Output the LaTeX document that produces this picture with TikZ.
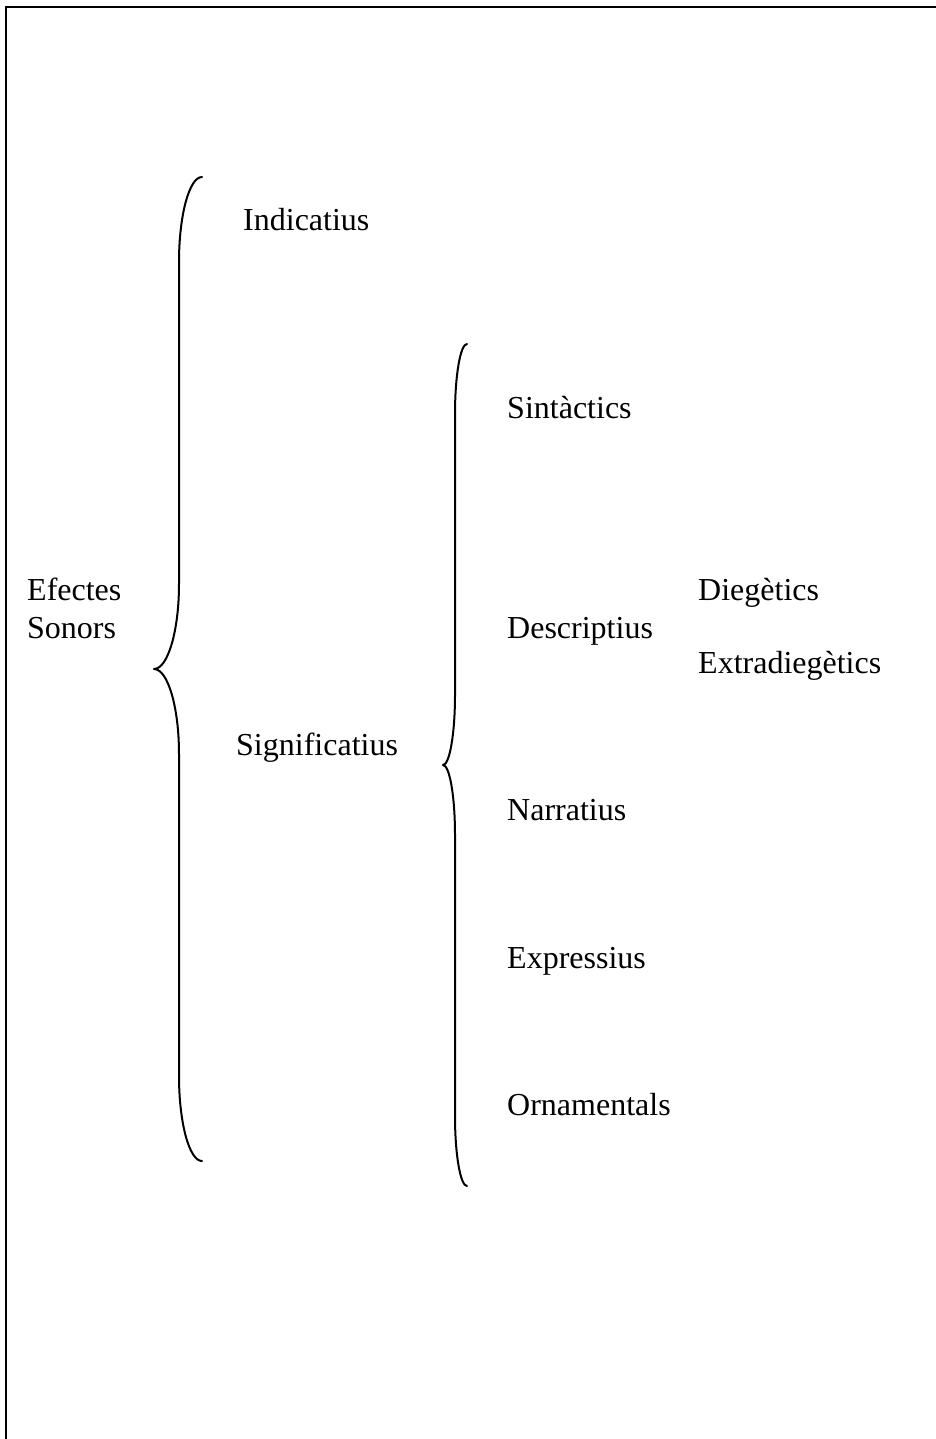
\documentclass[tikz,border=0pt]{standalone}
\usepackage{fontspec}
\setmainfont{Liberation Serif}
\begin{document}
\begin{tikzpicture}[x=1pt,y=-1pt,
  label/.style={anchor=base west,inner sep=0pt,font=\fontsize{32}{38}\selectfont},
  bracestroke/.style={line width=2pt,line cap=round,line join=round},
  framestroke/.style={line width=2pt}]
\clip (0,0) rectangle (936,1439);
\fill[white] (0,0) rectangle (936,1439);
% page frame (runs past the right and bottom edges)
\draw[framestroke] (960,7) -- (6,7) -- (6,1470);

% outer brace
\draw[bracestroke] (202,177) .. controls (189.3,177) and (179,215.1) .. (179,262)
  -- (179,584) .. controls (179,630.9) and (167.8,669) .. (154,669)
  .. controls (167.8,669) and (179,707.1) .. (179,754)
  -- (179,1076) .. controls (179,1122.9) and (189.3,1161) .. (202,1161);

% inner brace
\draw[bracestroke] (467,344) .. controls (460.4,344) and (455,375.4) .. (455,414)
  -- (455,695) .. controls (455,733.6) and (449.6,765) .. (443,765)
  .. controls (449.6,765) and (455,796.4) .. (455,835)
  -- (455,1116) .. controls (455,1154.6) and (460.4,1186) .. (467,1186);

\node[label] (efectes) at (27,600) {Efectes};
\node[label] (sonors) at (27,638) {Sonors};
\node[label] (indicatius) at (243,231) {Indicatius};
\node[label] (significatius) at (236,755) {Significatius};
\node[label] (sintactics) at (507,418) {Sintàctics};
\node[label] (descriptius) at (507,638) {Descriptius};
\node[label] (narratius) at (507,820) {Narratius};
\node[label] (expressius) at (507,968) {Expressius};
\node[label] (ornamentals) at (507,1115) {Ornamentals};
\node[label] (diegetics) at (698,600) {Diegètics};
\node[label] (extradiegetics) at (698,673) {Extradiegètics};
\end{tikzpicture}
\end{document}
